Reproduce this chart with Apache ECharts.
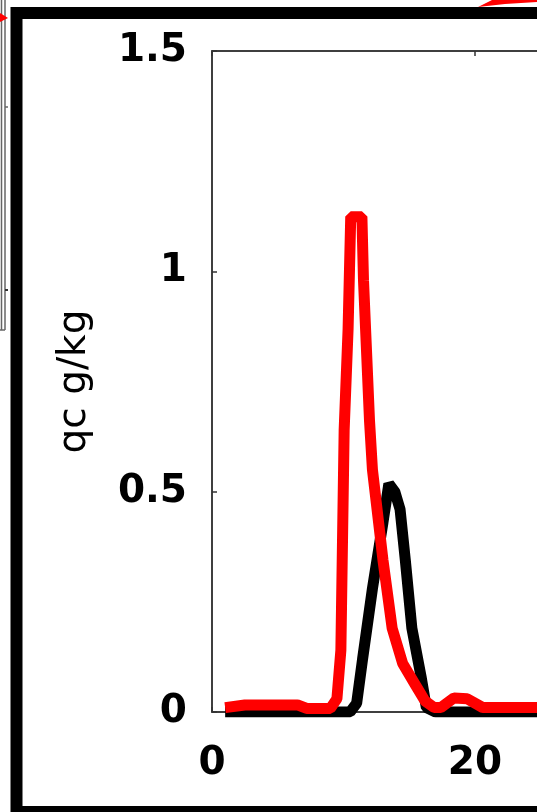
<!DOCTYPE html>
<html>
<head>
<meta charset="utf-8">
<script src="https://cdn.jsdelivr.net/npm/echarts@6/dist/echarts.min.js"></script>
<style>
  html, body { margin: 0; padding: 0; background: #fff; }
  #chart { width: 537px; height: 812px; }
</style>
</head>
<body>
<div id="chart"></div>
<script>
// values
const xTicks = [0, 20, 40];
const yTicks = [0, 0.5, 1, 1.5];

// black curve (x, qc)
const blackX = [1, 10.5, 11.0, 11.45, 12.2, 13.0, 13.45, 13.9, 14.3, 14.7, 15.2, 15.9, 16.3, 17, 26];
const blackY = [0, 0, 0.02, 0.12, 0.28, 0.43, 0.518, 0.5, 0.46, 0.345, 0.19, 0.08, 0.01, 0, 0];

// red curve (x, qc)
const redX = [1, 2.5, 6.5, 7.2, 9.0, 9.5, 9.8, 10.05, 10.35, 10.55, 11.4, 11.52, 11.75, 11.98, 12.2, 13.0, 13.7, 14.5, 15.5, 16.2, 16.9, 17.4, 18.4, 19.4, 20.6, 23, 26];
const redY = [0.01, 0.016, 0.016, 0.008, 0.008, 0.03, 0.14, 0.64, 0.87, 1.124, 1.124, 0.98, 0.82, 0.66, 0.55, 0.345, 0.19, 0.11, 0.06, 0.025, 0.01, 0.01, 0.032, 0.03, 0.01, 0.01, 0.01];

const yName = "qc g/kg";

const pairs = (xs, ys) => xs.map((x, i) => [x, ys[i]]);

const chart = echarts.init(document.getElementById("chart"));

const axisColor = "#333";
const font = "DejaVu Sans";

chart.setOption({
  animation: false,
  backgroundColor: "#fff",
  grid: {
    left: 212,
    top: 51,
    width: 526,
    height: 661,
    outerBoundsMode: "none",
    containLabel: false,
    show: true,
    borderColor: axisColor,
    borderWidth: 1.5,
  },
  xAxis: [
    {
      type: "value",
      min: xTicks[0],
      max: xTicks[xTicks.length - 1],
      interval: 20,
      position: "bottom",
      axisLine: { show: true, lineStyle: { color: axisColor, width: 1.5 } },
      axisTick: { show: true, inside: true, length: 5, lineStyle: { color: axisColor, width: 1.5 } },
      axisLabel: { margin: 32, fontSize: 39, fontWeight: "bold", fontFamily: font, color: "#000" },
      splitLine: { show: false },
    },
    {
      type: "value",
      min: xTicks[0],
      max: xTicks[xTicks.length - 1],
      interval: 20,
      position: "top",
      axisLine: { show: true, lineStyle: { color: axisColor, width: 1.5 } },
      axisTick: { show: true, inside: true, length: 5, lineStyle: { color: axisColor, width: 1.5 } },
      axisLabel: { show: false },
      splitLine: { show: false },
    },
  ],
  yAxis: {
    type: "value",
    min: yTicks[0],
    max: yTicks[yTicks.length - 1],
    interval: 0.5,
    name: yName,
    nameLocation: "middle",
    nameGap: 118,
    nameTextStyle: { fontSize: 39, fontFamily: font, color: "#000" },
    axisLine: { show: true, lineStyle: { color: axisColor, width: 1.5 } },
    axisTick: { show: true, inside: true, length: 5, lineStyle: { color: axisColor, width: 1.5 } },
    axisLabel: { margin: 25, fontSize: 39, fontWeight: "bold", fontFamily: font, color: "#000" },
    splitLine: { show: false },
  },
  series: [
    {
      type: "line",
      data: pairs(blackX, blackY),
      showSymbol: false,
      clip: true,
      lineStyle: { color: "#000", width: 11 },
      z: 2,
    },
    {
      type: "line",
      data: pairs(redX, redY),
      showSymbol: false,
      clip: true,
      lineStyle: { color: "#ff0000", width: 11 },
      z: 3,
    },
  ],
  graphic: [
    // thick outer frame
    { type: "rect", shape: { x: 16.5, y: 13, width: 800, height: 799 }, style: { fill: null, stroke: "#000", lineWidth: 12 } },
    // edge of the neighbouring panel
    { type: "line", shape: { x1: 1.5, y1: 0, x2: 1.5, y2: 330 }, style: { stroke: "#666", lineWidth: 1.5 } },
    { type: "line", shape: { x1: 5, y1: 0, x2: 5, y2: 330 }, style: { stroke: "#666", lineWidth: 1.5 } },
    { type: "line", shape: { x1: 0, y1: 330, x2: 5, y2: 330 }, style: { stroke: "#666", lineWidth: 1.5 } },
    { type: "line", shape: { x1: 5, y1: 107, x2: 8, y2: 107 }, style: { stroke: "#666", lineWidth: 1.5 } },
    { type: "line", shape: { x1: 5, y1: 290, x2: 8, y2: 290 }, style: { stroke: "#333", lineWidth: 2 } },
    // red marks cut by the crop
    { type: "polygon", shape: { points: [[0, 13], [8, 18], [0, 22]] }, style: { fill: "#f00" } },
    { type: "polygon", shape: { points: [[478, 7], [505, 4], [537, 2], [537, 0], [492, 0]] }, style: { fill: "#f00" } },
  ],
});
</script>
</body>
</html>
